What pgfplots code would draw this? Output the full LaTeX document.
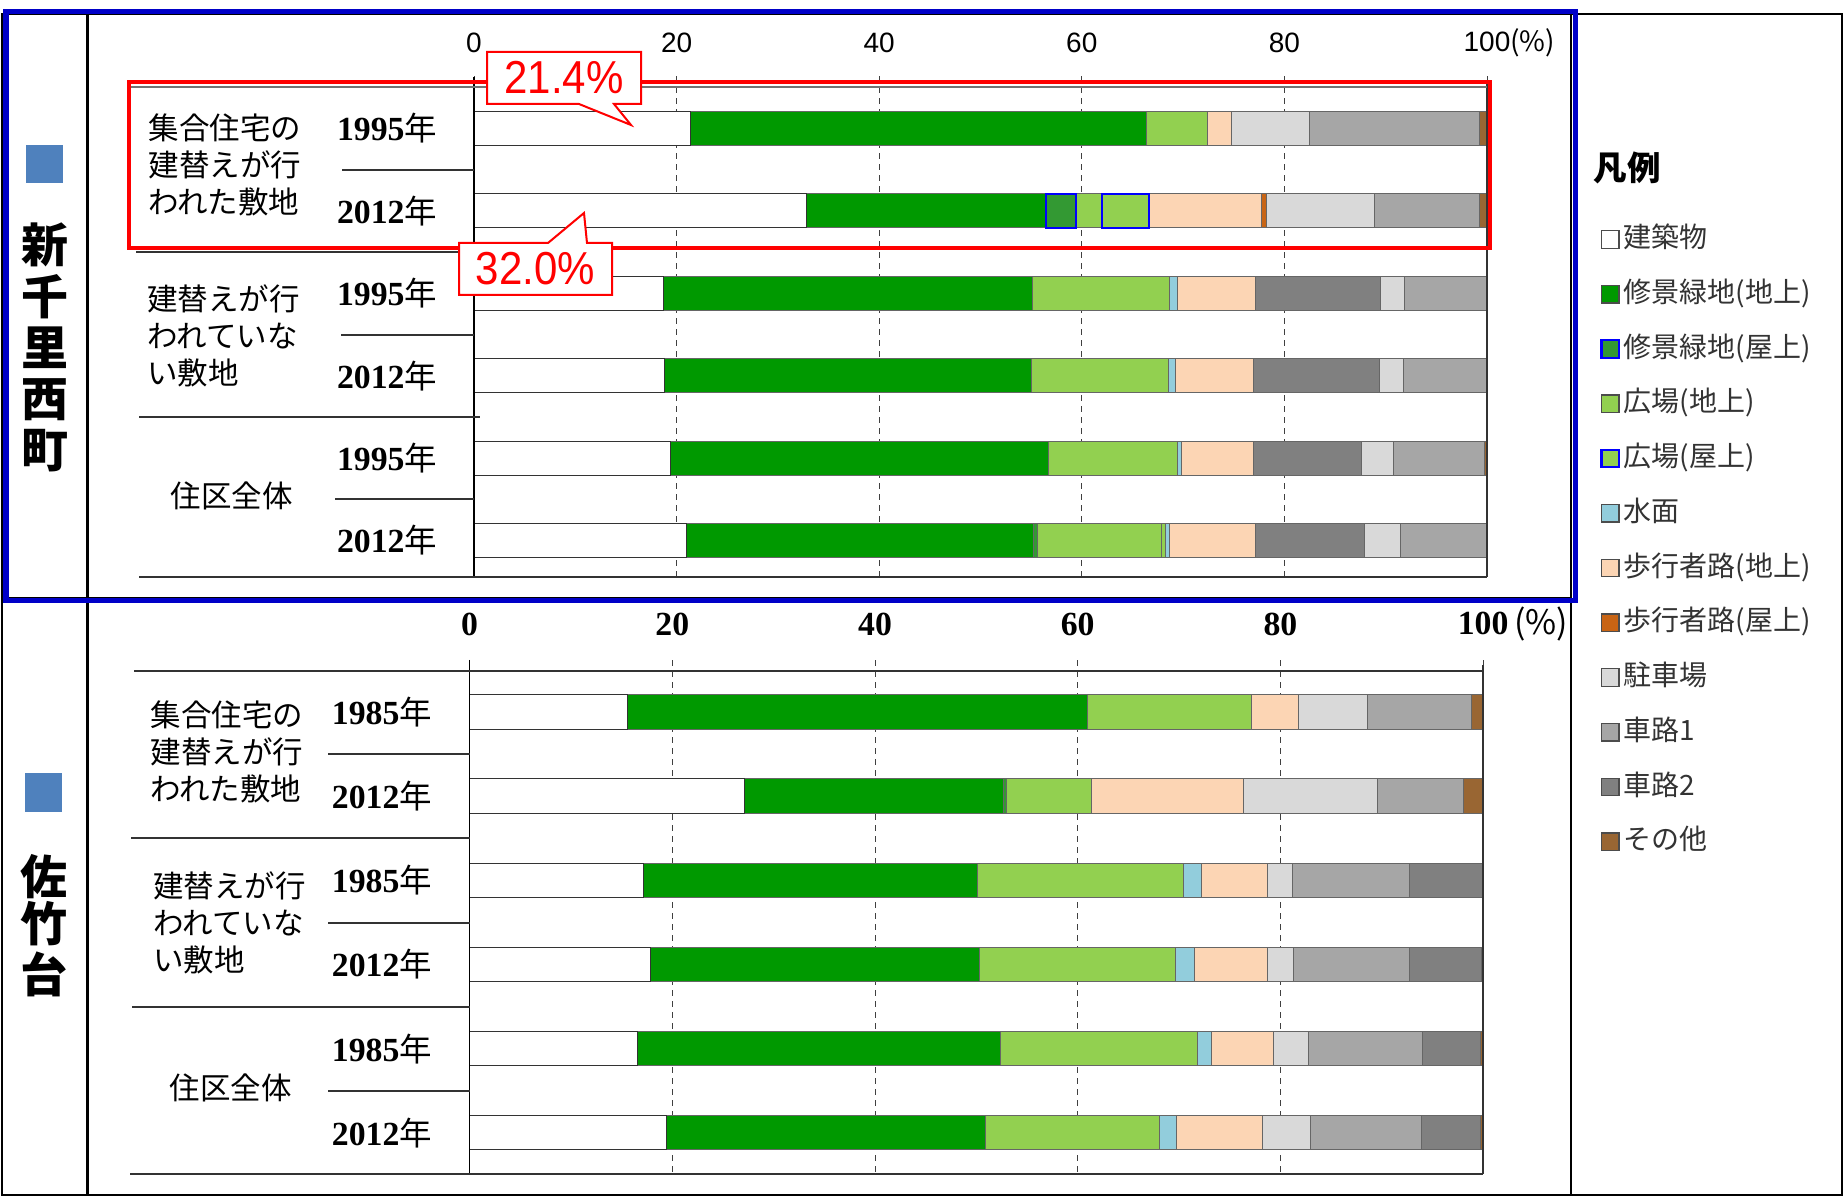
\documentclass[border=0pt]{standalone}
\usepackage{fontspec}
\setmainfont{Liberation Serif}
\newfontfamily\cjk{Noto Sans CJK JP}
\newfontfamily\lsans{Liberation Sans}
\usepackage{pgfplots}
\usepackage{pgfplotstable}
\pgfplotsset{compat=1.18}
\newcommand{\fs}[1]{\fontsize{#1}{#1}\selectfont}
\definecolor{cGreenG}{RGB}{0,153,0}
\definecolor{cGreenR}{RGB}{51,153,51}
\definecolor{cPlaza}{RGB}{146,208,80}
\definecolor{cWater}{RGB}{146,205,220}
\definecolor{cPed}{RGB}{252,213,180}
\definecolor{cPedR}{RGB}{200,100,20}
\definecolor{cPark}{RGB}{217,217,217}
\definecolor{cRoadA}{RGB}{166,166,166}
\definecolor{cRoadB}{RGB}{128,128,128}
\definecolor{cOther}{RGB}{153,102,51}
\definecolor{cName}{RGB}{79,129,189}
\definecolor{cFrame}{RGB}{0,0,200}

\pgfplotstableread{
y b gG gR pG pR w pdG pdR rBa pk rA rBb o
1 21.4 45.0 0 6.0 0 0 2.4 0 0 7.7 16.8 0 0.7
2 32.8 23.7 2.9 2.6 4.6 0 11.1 0.5 0 10.7 10.4 0 0.7
3 18.7 36.4 0 13.6 0 0.7 7.7 0 12.4 2.4 8.1 0 0
4 18.8 36.2 0 13.6 0 0.6 7.7 0 12.5 2.4 8.2 0 0
5 19.4 37.3 0 12.7 0 0.4 7.1 0 10.7 3.2 9.0 0 0.2
6 21.0 34.2 0.4 12.3 0.4 0.4 8.4 0 10.8 3.6 8.5 0 0
}\toptab
\pgfplotstableread{
y b gG gR pG pR w pdG pdR rBa pk rA rBb o
1 15.6 45.4 0 16.1 0 0 4.7 0 0 6.8 10.3 0 1.1
2 27.1 25.6 0.3 8.4 0 0 15.0 0 0 13.2 8.5 0 1.9
3 17.2 32.9 0 20.3 0 1.8 6.5 0 0 2.5 11.5 7.2 0.1
4 17.8 32.5 0 19.3 0 1.9 7.2 0 0 2.6 11.4 7.1 0.2
5 16.6 35.8 0 19.4 0 1.4 6.1 0 0 3.5 11.2 5.7 0.3
6 19.4 31.5 0 17.2 0 1.6 8.5 0 0 4.8 10.9 5.8 0.3
}\bottab

\pgfplotsset{
  panel/.style={
    scale only axis, xbar stacked, xmin=0, xmax=100, y dir=reverse,
    ytick=\empty, xtick={0,20,40,60,80,100},
    axis line style={draw=none}, tick style={draw=none},
    xmajorgrids, grid style={black!75, line width=0.35pt, dash pattern=on 2.4pt off 2pt},
    xticklabel pos=upper,
    every axis plot/.append style={draw=black!60, line width=0.4pt},
    legend image code/.code={\draw[##1,line width=0.5pt,draw=black!70] (0pt,-3.5pt) rectangle (7pt,3.5pt);},
  },
  roof/.style={legend image code/.code={\draw[##1,line width=0.9pt,draw=blue] (0pt,-3.5pt) rectangle (7pt,3.5pt);}},
}
\newcommand{\bars}[1]{%
  \addplot[fill=white, draw=black!80] table[x=b,y=y]{#1};
  \addplot[fill=cGreenG] table[x=gG,y=y]{#1};
  \addplot[fill=cGreenR, roof] table[x=gR,y=y]{#1};
  \addplot[fill=cPlaza] table[x=pG,y=y]{#1};
  \addplot[fill=cPlaza, roof] table[x=pR,y=y]{#1};
  \addplot[fill=cWater] table[x=w,y=y]{#1};
  \addplot[fill=cPed] table[x=pdG,y=y]{#1};
  \addplot[fill=cPedR] table[x=pdR,y=y]{#1};
  \addplot[fill=cRoadB, forget plot] table[x=rBa,y=y]{#1};
  \addplot[fill=cPark] table[x=pk,y=y]{#1};
  \addplot[fill=cRoadA] table[x=rA,y=y]{#1};
  \addplot[fill=cRoadB] table[x=rBb,y=y]{#1};
  \addplot[fill=cOther] table[x=o,y=y]{#1};
}

\begin{document}
\begin{tikzpicture}
\path[use as bounding box] (0pt,0pt) rectangle (738pt,-478.8pt);
\fill[white] (0pt,0pt) rectangle (738pt,-478.8pt);

% ---------- top panel ----------
\begin{axis}[panel, at={(189.6pt,-230.8pt)}, anchor=south west,
  width=405.2pt, height=200.4pt, ymin=0.363, ymax=6.443, bar width=13.6pt,
  xticklabels={0,20,40,60,80,100\rlap{{\cjk(\%)}}},
  xticklabel style={font=\lsans\fs{11.2}, anchor=center, yshift=13.2pt}]
\bars{\toptab}
\end{axis}
% blue outlines of the rooftop parts (row 2012, rebuilt)
\begin{axis}[scale only axis, hide axis, xbar stacked, at={(189.6pt,-230.8pt)}, anchor=south west,
  width=405.2pt, height=200.4pt, xmin=0, xmax=100, ymin=0.363, ymax=6.443, y dir=reverse, bar width=13.6pt]
\addplot[draw=none, fill=none] coordinates {(56.5,2)};
\addplot[draw=blue, line width=0.9pt, fill=none] coordinates {(2.9,2)};
\addplot[draw=none, fill=none] coordinates {(2.6,2)};
\addplot[draw=blue, line width=0.9pt, fill=none] coordinates {(4.6,2)};
\end{axis}

% ---------- bottom panel ----------
\begin{axis}[panel, at={(187.84pt,-469.6pt)}, anchor=south west,
  width=405.4pt, height=205.6pt, ymin=0.382, ymax=6.491, bar width=13.8pt,
  xticklabels={0,20,40,60,80,100\rlap{\,{\cjk\mdseries(\%)}}},
  xticklabel style={font=\bfseries\fs{13.5}, anchor=center, yshift=14.4pt},
  legend style={at={(1.1153,1.8473)}, anchor=north west, draw=none, fill=none,
    font=\cjk\fs{11.2}, row sep=10.4pt, column sep=1.5pt, inner sep=0pt,
    nodes={inner sep=0pt, text height=9pt, text depth=2.5pt, text=black!80}},
  legend cell align=left,
  legend entries={建築物,修景緑地(地上),修景緑地(屋上),広場(地上),広場(屋上),水面,歩行者路(地上),歩行者路(屋上),駐車場,車路1,車路2,その他}]
\bars{\bottab}
\end{axis}

\begin{scope}[x=0.4pt,y=-0.4pt]
% axis frame lines, top
\draw[black, line width=0.5pt] (474,77) -- (474,577);
\draw[black!80, line width=0.5pt] (1487,82) -- (1487,577);
\draw[black!55, line width=0.8pt] (130,87) -- (1487,87);
\draw[black!80, line width=0.5pt] (139,577) -- (1487,577);
\draw[black!80, line width=0.5pt] (342,170) -- (474,170);
\draw[black!80, line width=0.5pt] (136,252) -- (474,252);
\draw[black!80, line width=0.5pt] (341,335) -- (474,335);
\draw[black!80, line width=0.5pt] (139,417) -- (480,417);
\draw[black!80, line width=0.5pt] (335,499) -- (474,499);
% axis frame lines, bottom
\draw[black, line width=0.5pt] (469.6,660) -- (469.6,1174);
\draw[black!80, line width=0.5pt] (1483,665) -- (1483,1174);
\draw[black!80, line width=0.5pt] (134,671) -- (1483,671);
\draw[black!80, line width=0.5pt] (130,1174) -- (1483,1174);
\draw[black!80, line width=0.5pt] (328,754) -- (470,754);
\draw[black!80, line width=0.5pt] (131,838) -- (470,838);
\draw[black!80, line width=0.5pt] (328,923) -- (470,923);
\draw[black!80, line width=0.5pt] (132,1007) -- (470,1007);
\draw[black!80, line width=0.5pt] (328,1091) -- (470,1091);

% group labels
\node[anchor=west, align=left, inner sep=0pt, font=\cjk\fontsize{12.2}{14.8}\selectfont] at (148,164.5) {集合住宅の\\建替えが行\\われた敷地};
\node[anchor=west, align=left, inner sep=0pt, font=\cjk\fontsize{12.2}{14.8}\selectfont] at (147,335.5) {建替えが行\\われていな\\い敷地};
\node[inner sep=0pt, font=\cjk\fs{12.2}] at (232,496) {住区全体};
\node[anchor=west, align=left, inner sep=0pt, font=\cjk\fontsize{12.2}{14.8}\selectfont] at (150,752) {集合住宅の\\建替えが行\\われた敷地};
\node[anchor=west, align=left, inner sep=0pt, font=\cjk\fontsize{12.2}{14.8}\selectfont] at (153,923) {建替えが行\\われていな\\い敷地};
\node[inner sep=0pt, font=\cjk\fs{12.2}] at (231,1088) {住区全体};
% year labels
\foreach \yy/\tt in {128.5/1995,210.9/2012,293.3/1995,375.7/2012,458.1/1995,540.5/2012}
  \node[inner sep=0pt, font=\bfseries\fs{13.5}] at (387,\yy) {\tt{\cjk\mdseries\fs{13}年}};
\foreach \yy/\tt in {712/1985,796/2012,880/1985,964.5/2012,1048.7/1985,1132.7/2012}
  \node[inner sep=0pt, font=\bfseries\fs{13.5}] at (382,\yy) {\tt{\cjk\mdseries\fs{13}年}};
% place names
\fill[cName] (26,145) rectangle (63,183);
\fill[cName] (25,773) rectangle (62,812);
\foreach \yy/\cc in {245/新,296.5/千,348/里,399.5/西,451/町}
  \node[inner sep=0pt, font=\cjk\bfseries\fs{18.8}] at (45,\yy) {\cc};
\foreach \yy/\cc in {877/佐,924/竹,974/台}
  \node[inner sep=0pt, font=\cjk\bfseries\fs{18.8}] at (44,\yy) {\cc};
% legend title
\node[inner sep=0pt, font=\cjk\bfseries\fs{13.4}] at (1627,168) {凡例};

% red highlight
\draw[red, line width=1.6pt] (128.5,81.7) rectangle (1490,248);
\draw[red, line width=0.8pt, fill=white] (487,52) -- (641,52) -- (641,104) -- (614,104) -- (631,125) -- (579,104) -- (487,104) -- cycle;
\node[red, inner sep=0pt, font=\lsans\fs{16.8}, yscale=1.1] at (564,78) {21.4\%};
\draw[red, line width=0.8pt, fill=white] (459,243) -- (548,243) -- (584,213) -- (587,243) -- (612,243) -- (612,295) -- (459,295) -- cycle;
\node[red, inner sep=0pt, font=\lsans\fs{16.8}, yscale=1.1] at (535.5,269) {32.0\%};

% frames
\draw[black, line width=0.8pt] (2,14) rectangle (1842,1195);
\draw[black, line width=1.2pt] (87,14) -- (87,1195);
\draw[black, line width=0.8pt] (1571,14) -- (1571,1195);
\draw[black, line width=0.8pt] (2,598) -- (1571,598);
\draw[cFrame, line width=2pt] (6,12) rectangle (1575,601);
\end{scope}
\end{tikzpicture}
\end{document}
